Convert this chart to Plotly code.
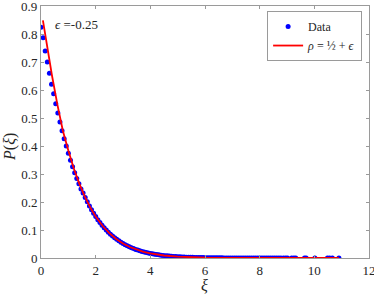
import plotly.graph_objects as go

# ---- data ----
data_x = [0.0, 0.077, 0.154, 0.231, 0.308, 0.385, 0.462, 0.539, 0.616, 0.693,
          0.77, 0.847, 0.924, 1.001, 1.078, 1.155, 1.232, 1.309, 1.386, 1.463,
          1.54, 1.617, 1.694, 1.771, 1.848, 1.925, 2.002, 2.079, 2.156, 2.233,
          2.31, 2.387, 2.464, 2.541, 2.618, 2.695, 2.772, 2.849, 2.926, 3.003,
          3.08, 3.157, 3.234, 3.311, 3.388, 3.465, 3.542, 3.619, 3.696, 3.773,
          3.85, 3.927, 4.004, 4.081, 4.158, 4.235, 4.312, 4.389, 4.466, 4.543,
          4.62, 4.697, 4.774, 4.851, 4.928, 5.005, 5.082, 5.159, 5.236, 5.313,
          5.39, 5.467, 5.544, 5.621, 5.698, 5.775, 5.852, 5.929, 6.006, 6.083,
          6.16, 6.237, 6.314, 6.391, 6.468, 6.545, 6.622, 6.699, 6.776, 6.853,
          6.93, 7.007, 7.084, 7.161, 7.238, 7.315, 7.392, 7.469, 7.546, 7.623,
          7.7, 7.777, 7.854, 7.931, 8.008, 8.085, 8.162, 8.239, 8.316, 8.393,
          8.47, 8.547, 8.624, 8.701, 8.778,
          8.87, 8.95, 9.02, 9.17, 9.25, 9.32, 9.64, 9.70, 10.02, 10.48, 10.56, 10.66, 10.9]
data_y = [0.825, 0.787, 0.740, 0.700, 0.660, 0.621, 0.587, 0.551, 0.518, 0.486,
          0.455, 0.426, 0.400, 0.374, 0.349, 0.326, 0.305, 0.284, 0.265, 0.247,
          0.2327, 0.2162, 0.2007, 0.1862, 0.1726, 0.1600, 0.1482, 0.1371, 0.1268, 0.1173,
          0.1083, 0.1000, 0.0923, 0.0852, 0.0785, 0.0723, 0.0666, 0.0613, 0.0563, 0.0517,
          0.0475, 0.0436, 0.0400, 0.0367, 0.0336, 0.0308, 0.0282, 0.0258, 0.0236, 0.0215,
          0.0197, 0.0179, 0.0164, 0.0149, 0.0136, 0.0124, 0.0112, 0.0102, 0.0093, 0.0084,
          0.0077, 0.0069, 0.0063, 0.0057, 0.0052, 0.0047, 0.0042, 0.0038, 0.0035, 0.0031,
          0.0028, 0.00254, 0.00229, 0.00206, 0.00186, 0.00167, 0.0015, 0.00135, 0.00121, 0.00108,
          0.00097, 0.00087, 0.00077, 0.00069, 0.00061, 0.00055, 0.00049, 0.00043, 0.00038, 0.00034,
          0.0003, 0.00026, 0.00023, 0.0002, 0.00018, 0.00016, 0.00014, 0.00012, 0.00011, 0.0001,
          0.00009, 0.00008, 0.00007, 0.00006, 0.00005, 0.00005, 0.00004, 0.00004, 0.00003, 0.00003,
          0.00003, 0.00002, 0.00002, 0.00002, 0.00002,
          0.00001, 0.00001, 0.00001, 0.00001, 0.00001, 0.00001, 0.00001, 0.00001, 0.00001, 0.00001,
          0.00001, 0.00001, 0.00001]

fit_x = [0.07, 0.2, 0.4, 0.6, 0.8, 1.0, 1.2, 1.4, 1.6, 1.8, 2.0, 2.25, 2.5, 2.75,
         3.0, 3.25, 3.5, 3.75, 4.0, 4.5, 5.0, 5.5, 6.0, 7.0, 8.0, 9.0, 10.0, 10.9]
fit_y = [0.849, 0.766, 0.653, 0.548, 0.455, 0.384, 0.320, 0.266, 0.220, 0.181,
         0.1485, 0.1152, 0.0889, 0.0682, 0.0519, 0.0393, 0.0296, 0.0221, 0.0164,
         0.0089, 0.0047, 0.0024, 0.0012, 0.0003, 0.00006, 0.00001, 0.0, 0.0]

x_ticks = [0, 2, 4, 6, 8, 10, 12]
y_ticks = [0, 0.1, 0.2, 0.3, 0.4, 0.5, 0.6, 0.7, 0.8, 0.9]
y_ticktext = ["0", "0.1", "0.2", "0.3", "0.4", "0.5", "0.6", "0.7", "0.8", "0.9"]

SERIF = "Liberation Serif, DejaVu Serif, serif"
AX = "#262626"

fig = go.Figure()
fig.add_trace(go.Scatter(x=data_x, y=data_y, mode="markers", name="Data",
                         marker=dict(color="#0000ff", size=5, line=dict(width=0))))
fig.add_trace(go.Scatter(x=fit_x, y=fit_y, mode="lines",
                         name="<i>ρ</i> = ½ + <i>ϵ</i>",
                         line=dict(color="#ff0000", width=1.8)))

axis_common = dict(showline=True, mirror="allticks", linecolor="#9a9a9a", linewidth=1,
                   ticks="inside", ticklen=3, tickcolor="#9a9a9a", tickwidth=1,
                   showgrid=False, zeroline=False, automargin=False,
                   ticklabeloverflow="allow",
                   tickfont=dict(family=SERIF, size=13, color=AX))

fig.update_xaxes(range=[0, 12.0001], tickvals=x_ticks, ticktext=[str(t) for t in x_ticks],
                 **axis_common)
# the top tick label sits at the very edge of the page, where plotly drops it,
# so it is written as an annotation next to its (kept) tick mark
fig.update_yaxes(range=[0, 0.9005], tickvals=y_ticks,
                 ticktext=y_ticktext[:-1] + [""],
                 **axis_common)
fig.add_annotation(x=0, y=y_ticks[-1], xref="paper", yref="y", text=y_ticktext[-1],
                   showarrow=False, xanchor="right", yanchor="middle", xshift=-2,
                   font=dict(family=SERIF, size=13, color=AX))

# axis titles placed as annotations for precise placement
fig.add_annotation(x=0.497, y=-0.108, xref="paper", yref="paper", text="<i>ξ</i>",
                   showarrow=False, xanchor="center", yanchor="middle",
                   font=dict(family=SERIF, size=16, color=AX))
fig.add_annotation(x=-0.095, y=0.44, xref="paper", yref="paper",
                   text="<i>P</i>(<i>ξ</i>)", textangle=-90,
                   showarrow=False, xanchor="center", yanchor="middle",
                   font=dict(family=SERIF, size=16, color=AX))

fig.add_annotation(x=0.44, y=0.835, xref="x", yref="y", text="<i>ϵ</i> =-0.25",
                   showarrow=False, xanchor="left", yanchor="middle",
                   font=dict(family=SERIF, size=13, color=AX))

fig.update_layout(
    width=374, height=296,
    margin=dict(l=41, r=5, t=6, b=38, autoexpand=False),
    plot_bgcolor="white", paper_bgcolor="white",
    showlegend=True,
    legend=dict(x=0.979, y=0.98, xanchor="right", yanchor="top",
                bgcolor="white", bordercolor="#9a9a9a", borderwidth=1,
                font=dict(family=SERIF, size=12, color=AX),
                itemwidth=30, tracegroupgap=0),
)

fig.write_html("out.html", config={"displayModeBar": False},
               post_script="document.body.style.margin='0';document.body.style.padding='0';")
